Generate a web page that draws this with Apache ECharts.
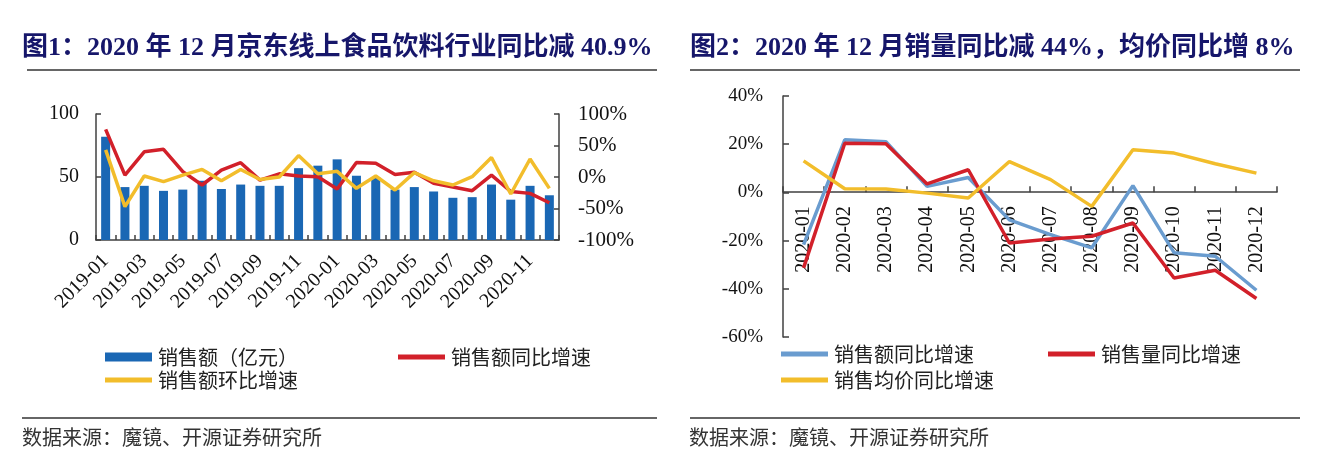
<!DOCTYPE html>
<html>
<head>
<meta charset="utf-8">
<script src="https://cdn.jsdelivr.net/npm/echarts@6/dist/echarts.min.js"></script>
<style>
html,body{margin:0;padding:0;background:#fff;}
#wrap{position:relative;width:1340px;height:459px;overflow:hidden;}
#c1{position:absolute;left:0;top:0;width:670px;height:459px;}
#c2{position:absolute;left:670px;top:0;width:670px;height:459px;}
</style>
</head>
<body>
<div id="wrap"><div id="c1"></div><div id="c2"></div></div>
<script>
// ---- Chart 1 data ----
var months1 = ['2019-01','2019-02','2019-03','2019-04','2019-05','2019-06','2019-07','2019-08','2019-09','2019-10','2019-11','2019-12',
               '2020-01','2020-02','2020-03','2020-04','2020-05','2020-06','2020-07','2020-08','2020-09','2020-10','2020-11','2020-12'];
var salesAmount = [82, 42, 43, 39, 40, 47, 40.5, 44, 43, 43, 57, 59, 64, 51, 50, 40, 42, 38.5, 33.5, 34, 44, 32, 43, 35.5];
var salesYoY1 = [75.7, 3, 40, 44, 8.5, -12.7, 11, 22.7, -5, 5, 1.6, 0.5, -19, 23, 21.7, 4, 7.4, -10, -16, -21.7, 3, -23, -26, -40.9];
var salesMoM = [43, -47, 1.6, -7.4, 3, 12, -6, 12, -4, 0, 34, 5, 9, -18, 1.6, -20.6, 7, -6, -12.7, 0.5, 31, -27, 28.6, -18];

// ---- Chart 2 data ----
var months2 = ['2020-01','2020-02','2020-03','2020-04','2020-05','2020-06','2020-07','2020-08','2020-09','2020-10','2020-11','2020-12'];
var salesYoY2 = [-21.7, 21.8, 21, 2.5, 6.2, -11.4, -17.5, -23, 2.8, -25, -26.5, -40.6];
var volumeYoY = [-31.3, 20.4, 20.2, 3.5, 9.4, -21, -19.3, -18.2, -12.7, -35.5, -32.3, -44];
var priceYoY = [13.1, 1.5, 1.4, -0.3, -2.3, 12.8, 5.3, -5.8, 17.7, 16.3, 11.9, 8];

var title1 = '图1：2020 年 12 月京东线上食品饮料行业同比减 40.9%';
var title2 = '图2：2020 年 12 月销量同比减 44%，均价同比增 8%';
var sourceText = '数据来源：魔镜、开源证券研究所';

var SERIF = '"Liberation Serif","Times New Roman",serif';
var CJK = '"Noto Sans CJK SC","Noto Sans",sans-serif';
var TITLE_FONT = '"Liberation Serif","Noto Sans CJK SC",serif';
var NAVY = '#16166a';
var BLUE = '#1a67b4', RED = '#d2202a', GOLD = '#f2bd2b', STEEL = '#6a9ccf';
var AXIS = '#404040';

function legendItem(name, left, top, h) {
  return {
    data: [name], left: left, top: top, orient: 'horizontal', padding: 0,
    icon: 'rect', itemWidth: 47, itemHeight: h,
    textStyle: {fontFamily: CJK, fontSize: 20, color: '#222', padding: [0,0,0,1]},
    selectedMode: false
  };
}

// ---------- Chart 1 ----------
var ch1 = echarts.init(document.getElementById('c1'), null, {renderer: 'canvas'});
ch1.setOption({
  animation: false,
  backgroundColor: '#fff',
  grid: {left: 96, right: 111, top: 114, bottom: 219, containLabel: false},
  legend: [
    legendItem('销售额（亿元）', 105, 347, 9),
    legendItem('销售额同比增速', 398, 347, 5),
    legendItem('销售额环比增速', 105, 370, 5)
  ],
  xAxis: {
    type: 'category', data: months1, boundaryGap: true,
    axisLine: {lineStyle: {color: AXIS, width: 1.5}},
    axisTick: {show: true, inside: true, length: 5, interval: 0, lineStyle: {color: AXIS, width: 1.5}},
    axisLabel: {interval: 1, rotate: 45, margin: 18, color: '#111', fontFamily: SERIF, fontSize: 20}
  },
  yAxis: [
    {type: 'value', min: 0, max: 100, interval: 50,
     splitLine: {show: false},
     axisLine: {show: true, lineStyle: {color: AXIS, width: 1.5}},
     axisTick: {show: true, inside: true, length: 5, lineStyle: {color: AXIS, width: 1.5}},
     axisLabel: {color: '#111', fontFamily: SERIF, fontSize: 20, margin: 17}},
    {type: 'value', min: -100, max: 100, interval: 50, position: 'right',
     splitLine: {show: false},
     axisLine: {show: true, lineStyle: {color: AXIS, width: 1.5}},
     axisTick: {show: true, inside: true, length: 5, lineStyle: {color: AXIS, width: 1.5}},
     axisLabel: {color: '#111', fontFamily: SERIF, fontSize: 21, margin: 19, formatter: '{value}%'}}
  ],
  series: [
    {name: '销售额（亿元）', type: 'bar', data: salesAmount, yAxisIndex: 0, barWidth: 9,
     itemStyle: {color: BLUE}, z: 1},
    {name: '销售额同比增速', type: 'line', data: salesYoY1, yAxisIndex: 1, showSymbol: false, symbol: 'none',
     lineStyle: {color: RED, width: 3.5}, itemStyle: {color: RED}, z: 3},
    {name: '销售额环比增速', type: 'line', data: salesMoM, yAxisIndex: 1, showSymbol: false, symbol: 'none',
     lineStyle: {color: GOLD, width: 3.5}, itemStyle: {color: GOLD}, z: 4}
  ],
  graphic: [
    {type: 'text', left: 22, top: 35, style: {text: title1, font: 'bold 26px ' + TITLE_FONT, fill: NAVY}},
    {type: 'line', shape: {x1: 27, y1: 70, x2: 657, y2: 70}, style: {stroke: '#333', lineWidth: 1.5}},
    {type: 'line', shape: {x1: 22, y1: 418, x2: 657, y2: 418}, style: {stroke: '#333', lineWidth: 1.5}},
    {type: 'text', left: 22, top: 427, style: {text: sourceText, font: '20px ' + CJK, fill: '#333'}}
  ]
});

// ---------- Chart 2 ----------
var ch2 = echarts.init(document.getElementById('c2'), null, {renderer: 'canvas'});
ch2.setOption({
  animation: false,
  backgroundColor: '#fff',
  grid: {left: 113, right: 63, top: 96, bottom: 122, containLabel: false},
  legend: [
    legendItem('销售额同比增速', 111, 344, 5),
    legendItem('销售量同比增速', 378, 344, 5),
    legendItem('销售均价同比增速', 111, 370, 5)
  ],
  xAxis: {
    type: 'category', data: months2, boundaryGap: true,
    // axis sits on the 0% line: 60% of the grid height above its bottom
    offset: -144.8,
    axisLine: {onZero: false, lineStyle: {color: AXIS, width: 1.5}},
    axisTick: {show: true, inside: true, length: 6, interval: 0, lineStyle: {color: AXIS, width: 1.5}},
    axisLabel: {interval: 0, rotate: 90, margin: 14, color: '#111', fontFamily: SERIF, fontSize: 20}
  },
  yAxis: {
    type: 'value', min: -60, max: 40, interval: 20,
    splitLine: {show: false},
    axisLine: {show: true, onZero: false, lineStyle: {color: AXIS, width: 1.5}},
    axisTick: {show: true, inside: true, length: 6, lineStyle: {color: AXIS, width: 1.5}},
    axisLabel: {color: '#111', fontFamily: SERIF, fontSize: 19, margin: 20, formatter: '{value}%'}
  },
  series: [
    {name: '销售额同比增速', type: 'line', data: salesYoY2, showSymbol: false, symbol: 'none',
     lineStyle: {color: STEEL, width: 3.5}, itemStyle: {color: STEEL}, z: 2},
    {name: '销售量同比增速', type: 'line', data: volumeYoY, showSymbol: false, symbol: 'none',
     lineStyle: {color: RED, width: 3.5}, itemStyle: {color: RED}, z: 3},
    {name: '销售均价同比增速', type: 'line', data: priceYoY, showSymbol: false, symbol: 'none',
     lineStyle: {color: GOLD, width: 3.5}, itemStyle: {color: GOLD}, z: 4}
  ],
  graphic: [
    {type: 'text', left: 20, top: 35, style: {text: title2, font: 'bold 26px ' + TITLE_FONT, fill: NAVY}},
    {type: 'line', shape: {x1: 20, y1: 70, x2: 630, y2: 70}, style: {stroke: '#333', lineWidth: 1.5}},
    {type: 'line', shape: {x1: 20, y1: 418, x2: 630, y2: 418}, style: {stroke: '#333', lineWidth: 1.5}},
    {type: 'text', left: 19, top: 427, style: {text: sourceText, font: '20px ' + CJK, fill: '#333'}}
  ]
});
</script>
</body>
</html>
